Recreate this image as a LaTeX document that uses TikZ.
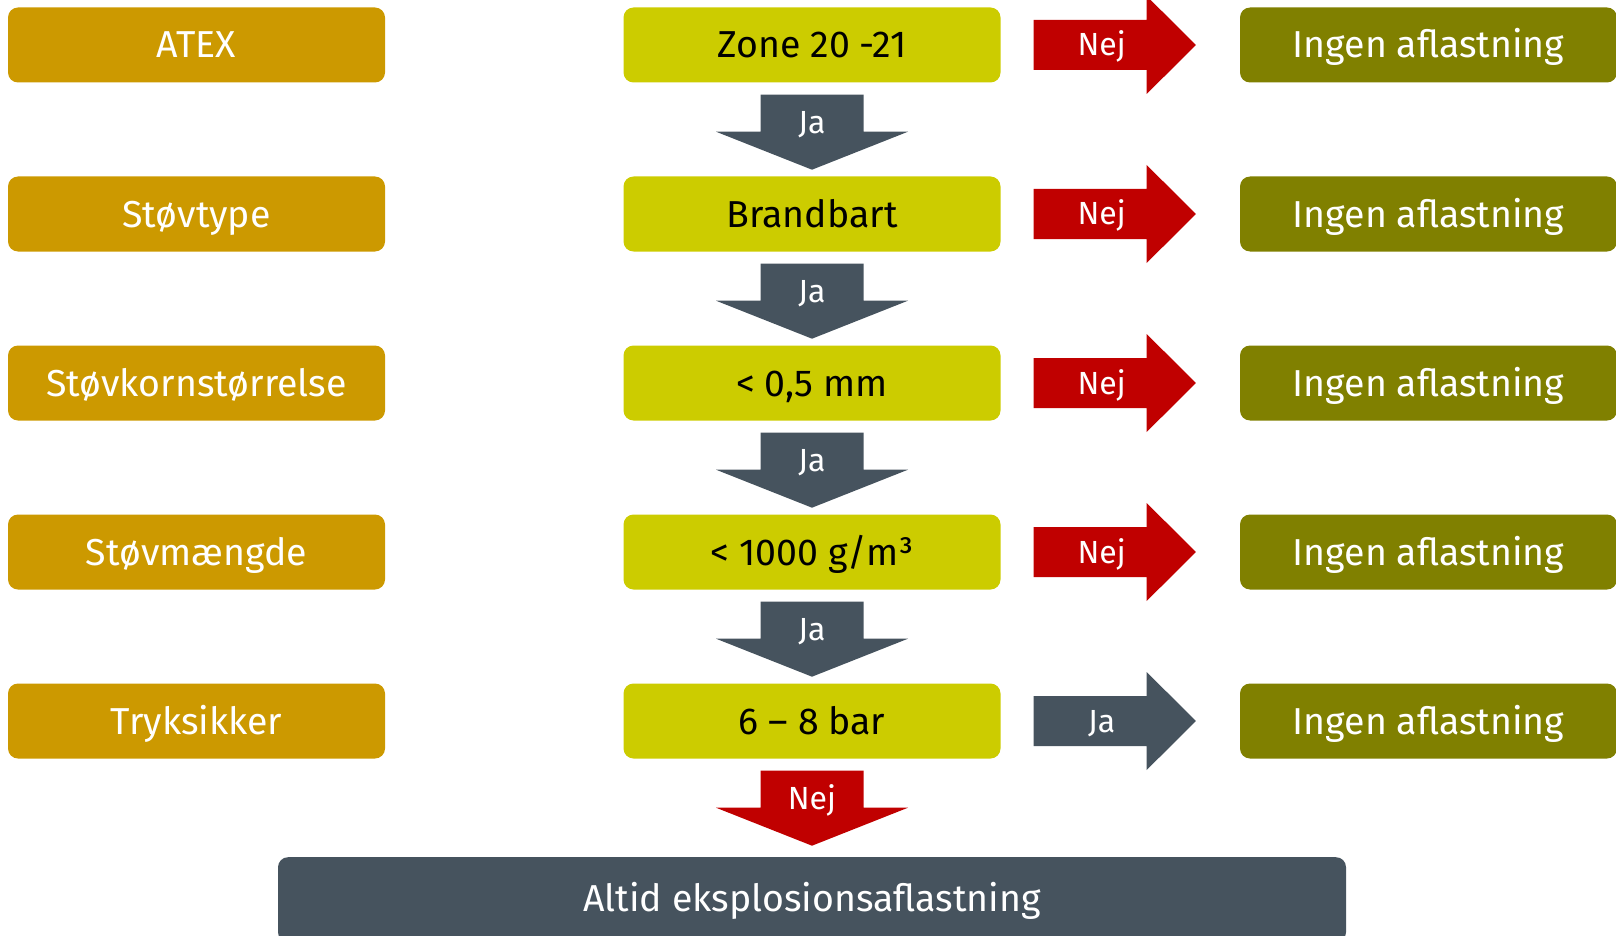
\documentclass[tikz,border=0pt]{standalone}
\usepackage{fontspec}
\setmainfont{Fira Sans}
\usetikzlibrary{calc}

\definecolor{atexgul}{HTML}{CC9900}
\definecolor{zonegul}{HTML}{CCCC00}
\definecolor{oliven}{HTML}{808000}
\definecolor{nejrod}{HTML}{C00000}
\definecolor{jagraa}{HTML}{46535E}

% hoejre pil: farve, fra, til, tekst
\newcommand{\hpil}[4]{%
\fill[#1] ($(#2.east)+(33,-25)$) -- ($(#2.east)+(146,-25)$) -- ($(#2.east)+(146,-49)$)
  -- ($(#3.west)+(-44,0)$) -- ($(#2.east)+(146,49)$) -- ($(#2.east)+(146,25)$)
  -- ($(#2.east)+(33,25)$) -- cycle;
\node[piltekst] at ($(#2.east)+(101,0)$) {#4};
}
% ned pil: farve, fra, tekst
\newcommand{\npil}[3]{%
\fill[#1] ($(#2.south)+(-51.5,12)$) -- ($(#2.south)+(51.5,12)$) -- ($(#2.south)+(51.5,49)$)
  -- ($(#2.south)+(96,49)$) -- ($(#2.south)+(0,87)$) -- ($(#2.south)+(-96,49)$)
  -- ($(#2.south)+(-51.5,49)$) -- cycle;
\node[piltekst] at ($(#2.south)+(0,40)$) {#3};
}

\begin{document}
\begin{tikzpicture}[x=1pt, y=-1pt,
  skrift/.style={font=\fontsize{37.5}{45}\selectfont, text height=26pt, text depth=0pt},
  boks/.style={skrift, rounded corners=10pt, minimum width=377pt, minimum height=75pt,
    inner sep=0pt},
  emne/.style={boks, fill=atexgul, text=white},
  krav/.style={boks, fill=zonegul, text=black},
  ingen/.style={boks, fill=oliven, text=white},
  piltekst/.style={text=white, inner sep=0pt, font=\fontsize{32}{38}\selectfont,
    text height=22pt, text depth=0pt}]
\clip (0,0) rectangle (1616,936);

\node[emne] (e1) at (196.5, 45) {ATEX};
\node[emne] (e2) at (196.5, 214) {Støvtype};
\node[emne] (e3) at (196.5, 383) {Støvkornstørrelse};
\node[emne] (e4) at (196.5, 552) {Støvmængde};
\node[emne] (e5) at (196.5, 721) {Tryksikker};

\node[krav] (k1) at (812, 45) {Zone 20 -21};
\node[krav] (k2) at (812, 214) {Brandbart};
\node[krav] (k3) at (812, 383) {< 0,5 mm};
\node[krav] (k4) at (812, 552) {< 1000 g/m³};
\node[krav] (k5) at (812, 721) {6 – 8 bar};

\node[ingen] (i1) at (1428.5, 45) {Ingen aflastning};
\node[ingen] (i2) at (1428.5, 214) {Ingen aflastning};
\node[ingen] (i3) at (1428.5, 383) {Ingen aflastning};
\node[ingen] (i4) at (1428.5, 552) {Ingen aflastning};
\node[ingen] (i5) at (1428.5, 721) {Ingen aflastning};

\node[boks, fill=jagraa, minimum width=1068pt, minimum height=85pt,
  anchor=north] (altid) at (812, 857) {};
\node[skrift, text=white] (altidtekst) at (812, 898) {Altid eksplosionsaflastning};

\hpil{nejrod}{k1}{i1}{Nej}
\hpil{nejrod}{k2}{i2}{Nej}
\hpil{nejrod}{k3}{i3}{Nej}
\hpil{nejrod}{k4}{i4}{Nej}
\hpil{jagraa}{k5}{i5}{Ja}

\npil{jagraa}{k1}{Ja}
\npil{jagraa}{k2}{Ja}
\npil{jagraa}{k3}{Ja}
\npil{jagraa}{k4}{Ja}
\npil{nejrod}{k5}{Nej}
\end{tikzpicture}
\end{document}
